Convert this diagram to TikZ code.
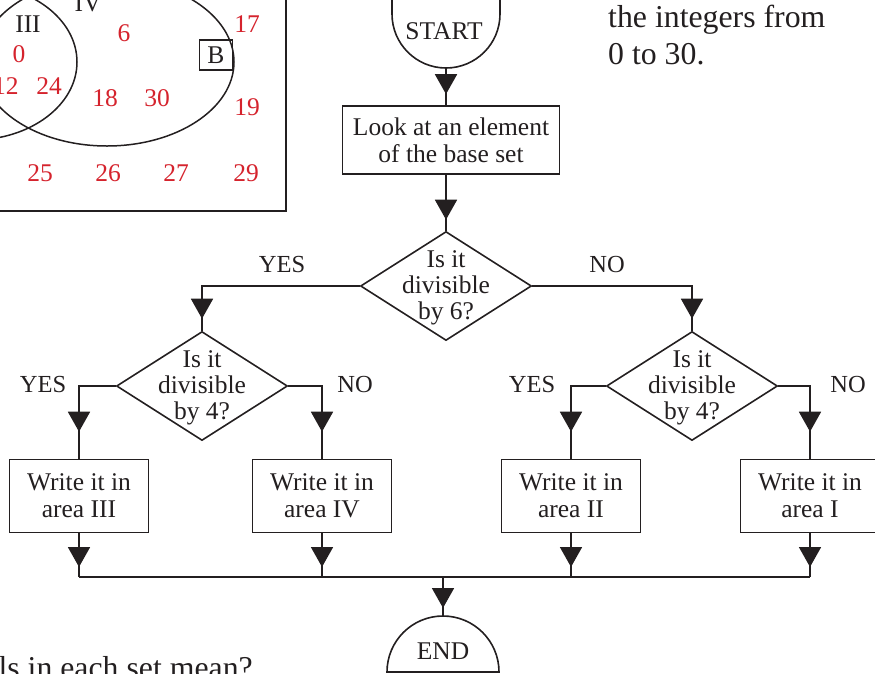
\documentclass[tikz,border=0pt]{standalone}
\usepackage{fontspec}
\setmainfont{Liberation Serif}
\usetikzlibrary{shapes.geometric,arrows.meta}
\definecolor{vennred}{RGB}{213,35,45}
\definecolor{ink}{RGB}{35,31,32}
\tikzset{
    flowline/.style={draw=ink,line width=1.8pt,
        postaction={draw=ink,line width=1.8pt,shorten >=#1,-{Triangle[width=22pt,length=20pt]}}},
    flowline/.default=10pt,
    box/.style={draw=ink,line width=1.6pt,minimum width=139pt,minimum height=73pt},
    dia/.style={draw=ink,line width=1.6pt,diamond,minimum width=171pt,minimum height=109pt}
}

\begin{document}
\begin{tikzpicture}[x=1pt,y=-1pt]
        \useasboundingbox (0,0) rectangle (875,673);
        \clip (0,0) rectangle (875,673);

        % Venn diagram (cut by the page)
        \draw[ink,line width=2.5pt] (-40,-40) rectangle (286,211);
        \draw[ink,line width=1.5pt] (-27,62) ellipse [x radius=104, y radius=78];
        \draw[ink,line width=1.5pt] (107,62) ellipse [x radius=127, y radius=84];
        \begin{scope}[every node/.style={text=vennred,inner sep=0pt,font=\fontsize{25.5}{27}\selectfont}]
            \node (IV) [text=ink] at (88,3) {IV};
            \node (III) [text=ink] at (28,24) {III};
            \node (B) [text=ink,draw=ink,line width=1.3pt,minimum width=33pt,minimum height=30pt] at (216,55) {B};
            \node (n0) at (19,54) {0};
            \node (n12) at (6,86) {12};
            \node (n24) at (49,86) {24};
            \node (n6) at (124,33) {6};
            \node (n18) at (105,98) {18};
            \node (n30) at (157,98) {30};
            \node (n17) at (247,24) {17};
            \node (n19) at (247,107) {19};
            \node (n25) at (40,173) {25};
            \node (n26) at (108,173) {26};
            \node (n27) at (176,173) {27};
            \node (n29) at (246,173) {29};
        \end{scope}

        % page text
        \begin{scope}[every node/.style={text=ink,inner sep=0pt,font=\fontsize{31.8}{37}\selectfont}]
            \node (T1) [anchor=base west] at (608,27) {the integers from};
            \node (T2) [anchor=base west] at (608,64) {0 to 30.};
            \node (Q) [anchor=base east] at (253,678) {ls in each set mean?};
        \end{scope}

        % start and end
        \draw[ink,line width=1.6pt] (392,-20) -- (392,14) arc[start angle=180, end angle=0, radius=54] -- (500,-20);
        \draw[ink,line width=1.6pt] (387,672) arc[start angle=180, end angle=360, radius=56] -- cycle;
        \coordinate (STb) at (446,68);
        \coordinate (Et) at (443,616);
        \coordinate (J) at (443,577);

        \begin{scope}[every node/.style={text=ink,inner sep=0pt,align=center,font=\fontsize{25.5}{27}\selectfont}]
            \node (ST) at (444,31) {START};
            \node (E) at (443,651) {END};
            \node (L) [box,minimum width=217pt,minimum height=68pt] at (451,140) {Look at an element\\of the base set};
            \node (D6) [dia] at (446,286) {};
            \node (D4L) [dia] at (202,386) {};
            \node (D4R) [dia] at (692,386) {};
            \node (D6t) [font=\fontsize{25.5}{26}\selectfont] at (446,288) {Is it\\divisible\\by 6?};
            \node (D4Lt) [font=\fontsize{25.5}{26}\selectfont] at (202,388) {Is it\\divisible\\by 4?};
            \node (D4Rt) [font=\fontsize{25.5}{26}\selectfont] at (692,388) {Is it\\divisible\\by 4?};
            \node (W3) [box] at (79,496) {Write it in\\area III};
            \node (W4) [box] at (322,496) {Write it in\\area IV};
            \node (W2) [box] at (571,496) {Write it in\\area II};
            \node (W1) [box] at (810,496) {Write it in\\area I};
        \end{scope}
        \begin{scope}[every node/.style={text=ink,inner sep=0pt,font=\fontsize{24.5}{27}\selectfont}]
            \node (y1) at (282,265) {YES};
            \node (no1) at (607,265) {NO};
            \node (y2) at (43,384) {YES};
            \node (no2) at (355,384) {NO};
            \node (y3) at (532,384) {YES};
            \node (no3) at (848,384) {NO};
        \end{scope}

        % connectors
        \path [flowline=11pt] (STb) -- (STb |- L.north);
        \path [flowline=11pt] (D6.north |- L.south) -- (D6.north);
        \path [flowline=12pt] (D6.west) -| (D4L.north);
        \path [flowline=12pt] (D6.east) -| (D4R.north);
        \path [flowline=27pt] (D4L.west) -| (W3.north);
        \path [flowline=27pt] (D4L.east) -| (W4.north);
        \path [flowline=27pt] (D4R.west) -| (W2.north);
        \path [flowline=27pt] (D4R.east) -| (W1.north);
        \path [flowline] (W3.south) -- (W3.south |- J);
        \path [flowline] (W4.south) -- (W4.south |- J);
        \path [flowline] (W2.south) -- (W2.south |- J);
        \path [flowline] (W1.south) -- (W1.south |- J);
        \draw [ink,line width=1.8pt] (W3.south |- J) -- (W1.south |- J);
        \path [flowline=8pt] (J) -- (Et);
    \end{tikzpicture}
\end{document}
